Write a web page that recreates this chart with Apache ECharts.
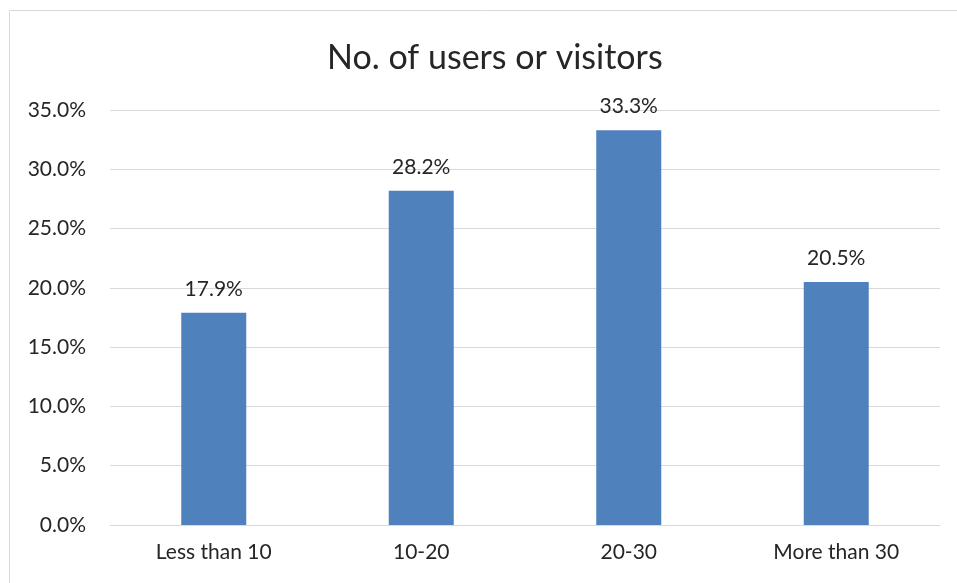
<!DOCTYPE html>
<html>
<head>
<meta charset="utf-8">
<script src="https://cdn.jsdelivr.net/npm/echarts@6/dist/echarts.min.js"></script>
<style>
  html, body { margin: 0; padding: 0; background: #fff; }
  #chart { width: 957px; height: 583px; }
</style>
</head>
<body>
<div id="chart"></div>
<script>
// data
const categories = ['Less than 10', '10-20', '20-30', 'More than 30'];
const shares = [17.9, 28.2, 33.3, 20.5];
const yTicks = [0, 5, 10, 15, 20, 25, 30, 35];

const FONT = 'Lato, "Open Sans", sans-serif';
const TEXT = '#262626';

const chart = echarts.init(document.getElementById('chart'), null, { renderer: 'canvas' });

chart.setOption({
    backgroundColor: '#fff',
    animation: false,
    textStyle: { fontFamily: FONT },
    graphic: [{
        type: 'rect',
        shape: { x: 9.5, y: 10.5, width: 980, height: 600 },
        style: { fill: 'none', stroke: '#d9d9d9', lineWidth: 1 },
        silent: true
    }],
    title: {
        text: 'No. of users or visitors',
        left: 322,
        top: 36,
        textStyle: { color: TEXT, fontFamily: FONT, fontSize: 34, fontWeight: 'normal' }
    },
    grid: { left: 110, right: 17, top: 110, bottom: 58, containLabel: false },
    xAxis: {
        type: 'category',
        data: categories,
        axisLine: { show: true, lineStyle: { color: '#d9d9d9', width: 1 } },
        axisTick: { show: false },
        axisLabel: { color: TEXT, fontFamily: FONT, fontSize: 21, margin: 17 },
        splitLine: { show: false }
    },
    yAxis: {
        type: 'value',
        min: yTicks[0],
        max: yTicks[yTicks.length - 1],
        interval: yTicks[1] - yTicks[0],
        axisLine: { show: false },
        axisTick: { show: false },
        axisLabel: {
            color: TEXT, fontFamily: FONT, fontSize: 21, margin: 24,
            formatter: (v) => v.toFixed(1) + '%'
        },
        splitLine: { lineStyle: { color: '#d9d9d9', width: 1 } }
    },
    series: [{
        type: 'bar',
        data: shares,
        barWidth: 65,
        itemStyle: { color: '#4f81bd' },
        label: {
            show: true,
            position: 'top',
            distance: 13,
            color: TEXT,
            fontFamily: FONT,
            fontSize: 21,
            formatter: (p) => p.value.toFixed(1) + '%'
        }
    }]
});
</script>
</body>
</html>
